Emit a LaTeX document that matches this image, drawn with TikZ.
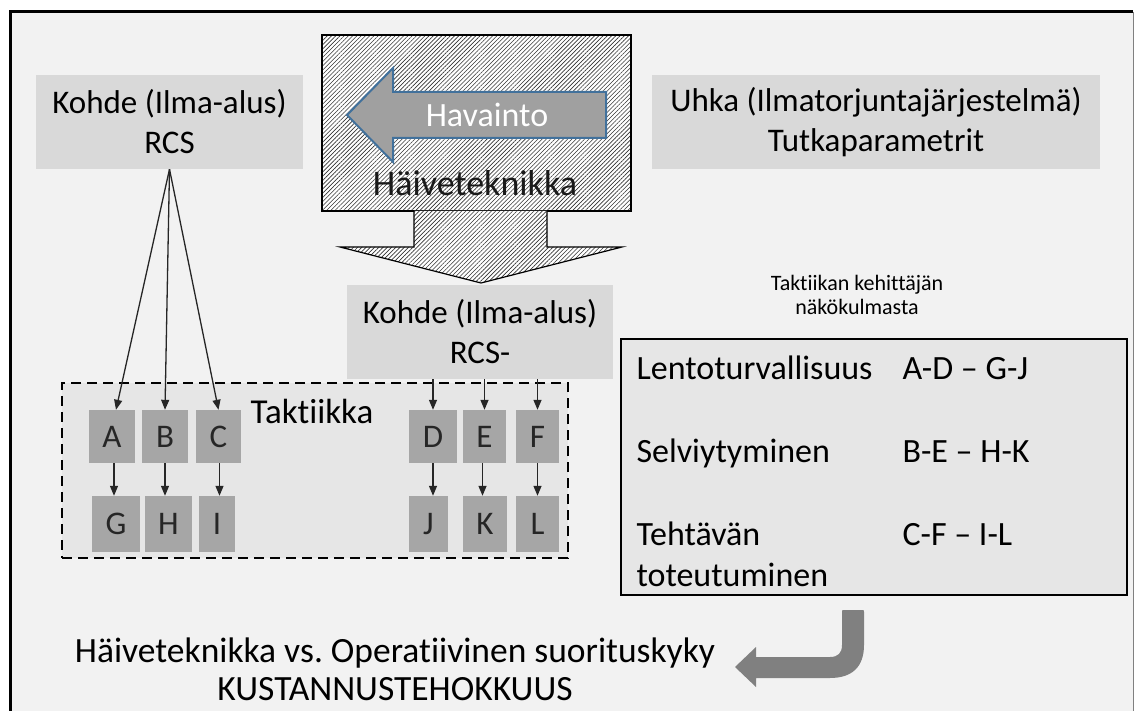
\documentclass[tikz,border=0pt]{standalone}
\usepackage{fontspec}
\setmainfont{Carlito}[Ligatures={TeX,NoCommon}]
\usetikzlibrary{arrows.meta}
\usetikzlibrary{patterns.meta}

\definecolor{pagegray}{HTML}{F2F2F2}
\definecolor{boxgray}{HTML}{D9D9D9}
\definecolor{tacgray}{HTML}{E6E6E6}
\definecolor{lettergray}{HTML}{A6A6A6}
\definecolor{arrowgray}{HTML}{A0A0A0}
\definecolor{arrowblue}{HTML}{41719C}
\definecolor{bendgray}{HTML}{808080}

\tikzset{
  bigtext/.style={font=\fontsize{33}{40}\selectfont},
  listtext/.style={font=\fontsize{34}{41}\selectfont},
  infobox/.style={fill=boxgray, inner sep=0pt, align=center, bigtext},
  letterbox/.style={fill=lettergray, inner sep=0pt, font=\fontsize{33}{40}\selectfont, text=black!85},
  arr/.style={-{Triangle[length=10pt,width=8pt]}, line width=1.3pt, black!85},
  hatch/.style={preaction={fill=white}, pattern={Lines[angle=45,distance=3pt,line width=0.6pt]}, pattern color=black!80},
}

\begin{document}
\frenchspacing
\begin{tikzpicture}[x=1pt,y=1pt,yscale=-1,xscale=1]
\useasboundingbox (0,0) rectangle (1135,711);

%Shape: Frame
\fill[pagegray] (10,12) rectangle (1133,711);
\draw[line width=3pt] (10,711) -- (10,12) -- (1133,12);
\draw[gray, line width=1pt] (1133,12) -- (1133,711);

%Shape: Rectangle (top boxes)
\node[infobox, minimum width=267pt, minimum height=94pt] (rcsL) at (169.5,122) {Kohde (Ilma-alus)\\RCS};
\node[infobox, minimum width=448pt, minimum height=94pt] (threat) at (876,122) {Uhka (Ilmatorjuntajärjestelmä)\\Tutkaparametrit};

%Shape: Hatched box + down arrow
\node[draw, hatch, line width=1.2pt, minimum width=309pt, minimum height=176pt] (stealth) at (476.5,123) {};
\fill[hatch] (414,211) -- (414,247) -- (340,247) -- (481,283) -- (622,247) -- (547,247) -- (547,211) -- cycle;
\draw[line width=1.2pt] (414,211) -- (414,247) -- (340,247) -- (481,283) -- (622,247) -- (547,247) -- (547,211);

%Shape: Left Arrow
\draw[fill=arrowgray, draw=arrowblue, line width=2pt] (606,92) -- (393,92) -- (393,68) -- (347,115) -- (393,162) -- (393,138) -- (606,138) -- cycle;
% Text Node
\node[font=\fontsize{34}{40}\selectfont, text=white] (hav) at (487,115) {Havainto};
% Text Node
\node[font=\fontsize{36}{40}\selectfont, text=black!90] (haive) at (475,183) {Häiveteknikka};

%Shape: Rectangle (middle box)
\node[infobox, minimum width=266pt, minimum height=94pt] (rcsM) at (480,332) {Kohde (Ilma-alus)\\RCS-};

%Shape: Dashed box
\node[draw, dash pattern=on 10pt off 6pt, fill=tacgray, line width=1.3pt, minimum width=506pt, minimum height=175pt] (takt) at (315,470.5) {};
% Text Node
\node[font=\fontsize{35}{40}\selectfont] (taktlbl) at (312,411) {Taktiikka};

%Shape: Letter boxes
\node[letterbox, minimum width=46pt, minimum height=53pt] (A) at (112,436.5) {A};
\node[letterbox, minimum width=46pt, minimum height=53pt] (B) at (165,436.5) {B};
\node[letterbox, minimum width=45pt, minimum height=53pt] (C) at (218.5,436.5) {C};
\node[letterbox, minimum width=48pt, minimum height=53pt] (D) at (433,436.5) {D};
\node[letterbox, minimum width=43pt, minimum height=53pt] (E) at (484.5,436.5) {E};
\node[letterbox, minimum width=43pt, minimum height=53pt] (F) at (537.5,436.5) {F};
\node[letterbox, minimum width=48pt, minimum height=56pt] (G) at (116,524) {G};
\node[letterbox, minimum width=47pt, minimum height=56pt] (H) at (168.5,524) {H};
\node[letterbox, minimum width=36pt, minimum height=56pt] (I) at (217,524) {I};
\node[letterbox, minimum width=39pt, minimum height=56pt] (J) at (428.5,524) {J};
\node[letterbox, minimum width=44pt, minimum height=56pt] (K) at (485,524) {K};
\node[letterbox, minimum width=43pt, minimum height=56pt] (L) at (537.5,524) {L};

%Straight Lines
\draw[arr] (rcsL.south) -- ([xshift=4pt]A.north);
\draw[arr] (rcsL.south) -- (B.north);
\draw[arr] (rcsL.south) -- (C.north);
\draw[arr] (D.north |- rcsM.south) -- (D.north);
\draw[arr] (E.north |- rcsM.south) -- (E.north);
\draw[arr] (F.north |- rcsM.south) -- (F.north);
\draw[arr] ([xshift=2pt]A.south) -- ([xshift=2pt]A.south |- G.north);
\draw[arr] (B.south) -- (B.south |- H.north);
\draw[arr] ([xshift=1pt]C.south) -- ([xshift=1pt]C.south |- I.north);
\draw[arr] (D.south) -- (D.south |- J.north);
\draw[arr] ([xshift=-2pt]E.south) -- ([xshift=-2pt]E.south |- K.north);
\draw[arr] (F.south) -- (F.south |- L.north);

% Text Node
\node[font=\fontsize{22}{24}\selectfont, align=center] (view) at (857,295) {Taktiikan kehittäjän\\näkökulmasta};

%Shape: Rectangle (viewpoint box)
\node[draw, fill=tacgray, line width=1.3pt, minimum width=506pt, minimum height=256pt] (tac) at (874,467) {};
% Text Node
\node[listtext, anchor=base west] (lento) at (633,379) {Lentoturvallisuus};
\node[listtext, anchor=base west] (lentoval) at (899,379) {A-D – G-J};
\node[listtext, anchor=base west] (selv) at (633,462) {Selviytyminen};
\node[listtext, anchor=base west] (selvval) at (899,462) {B-E – H-K};
\node[listtext, anchor=base west] (teht) at (633,545) {Tehtävän};
\node[listtext, anchor=base west] (toteu) at (633,586) {toteutuminen};
\node[listtext, anchor=base west] (tehtval) at (899,545) {C-F – I-L};

%Shape: Bent Arrow
\fill[bendgray] (864,612) -- (864,645) .. controls (864,667) and (852,678) .. (830,678) -- (756,678) -- (756,687) -- (735,667) -- (756,647) -- (756,657) -- (830,657) .. controls (838,657) and (842,653) .. (842,645) -- (842,612) .. controls (842,610) .. (845,610) -- (861,610) .. controls (864,610) .. (864,612) -- cycle;

% Text Node
\node[font=\fontsize{35.5}{38}\selectfont, align=center] (cost) at (395,669) {Häiveteknikka vs. Operatiivinen suorituskyky\\KUSTANNUSTEHOKKUUS};

\end{tikzpicture}
\end{document}
